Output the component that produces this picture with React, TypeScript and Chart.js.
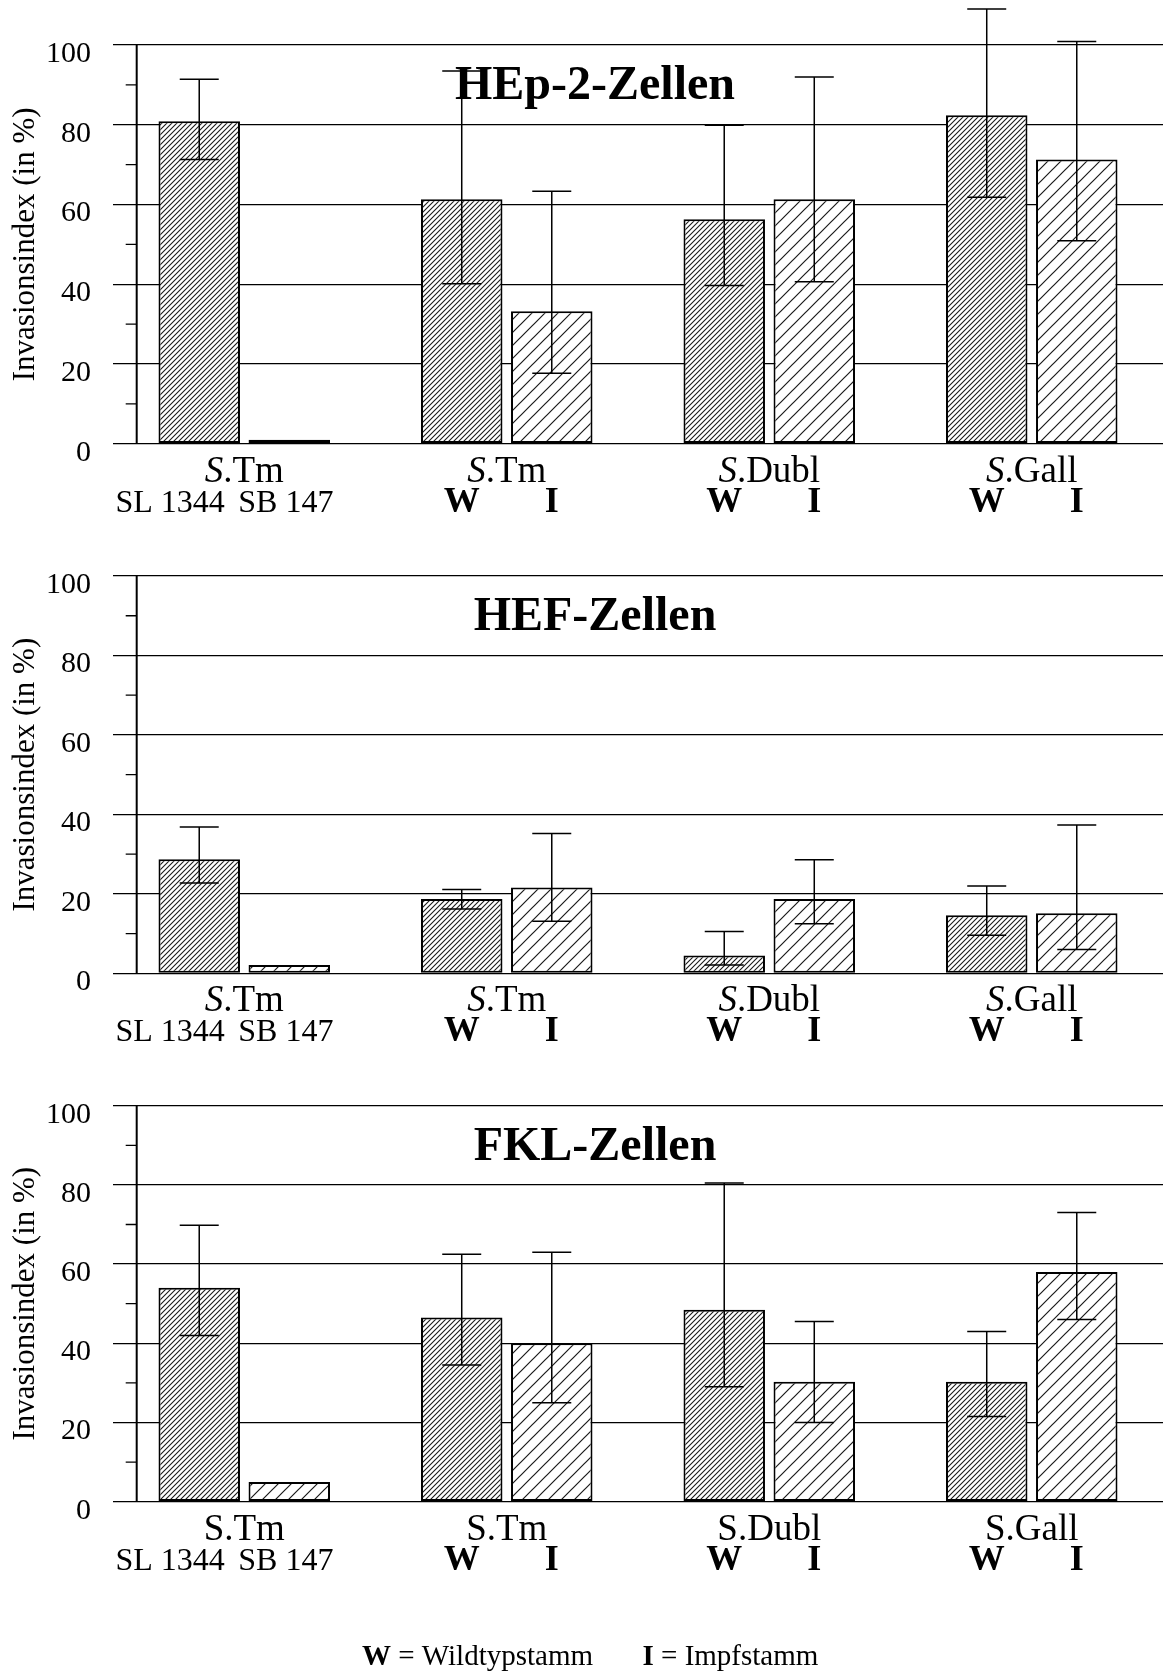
import { useEffect, useRef } from 'react';
import { Chart, registerables } from 'chart.js';

Chart.register(...registerables);

const SERIF = '"Liberation Serif", "Times New Roman", Times, serif';

// x axis: one group per Salmonella serovar
const GROUPS = ['S.Tm', 'S.Tm', 'S.Dubl', 'S.Gall'];
const FIRST_GROUP_STRAINS = ['SL 1344', 'SB 147'];
const STRAIN_MARKS = ['W', 'I'];
const Y_MIN = 0;
const Y_MAX = 100;
const Y_STEP = 20;
const Y_MINOR = [10, 30, 50, 70, 90];
const Y_TITLE = 'Invasionsindex (in %)';

// HEp-2 cells
const HEP_W = [80.9, 61.3, 56.3, 82.4];
const HEP_W_UPPER = [91.4, 93.5, 79.9, 109.0];
const HEP_W_LOWER = [71.3, 40.1, 39.7, 61.8];
const HEP_I = [1.0, 33.2, 61.3, 71.3];
const HEP_I_UPPER = [null, 63.3, 92.0, 100.9];
const HEP_I_LOWER = [null, 17.7, 40.6, 50.9];

// HEF cells
const HEF_W = [28.7, 18.7, 4.5, 14.6];
const HEF_W_UPPER = [36.8, 21.1, 10.5, 22.0];
const HEF_W_LOWER = [22.7, 16.2, 2.1, 9.6];
const HEF_I = [2.1, 21.6, 18.7, 15.1];
const HEF_I_UPPER = [null, 35.2, 28.6, 37.3];
const HEF_I_LOWER = [null, 13.1, 12.5, 6.0];

// FKL cells
const FKL_W = [54.0, 46.5, 48.5, 30.3];
const FKL_W_UPPER = [69.8, 62.5, 80.5, 43.0];
const FKL_W_LOWER = [42.0, 34.5, 29.0, 21.5];
const FKL_I = [5.0, 40.0, 30.3, 58.0];
const FKL_I_UPPER = [null, 63.0, 45.5, 73.0];
const FKL_I_LOWER = [null, 25.0, 20.0, 46.0];

const FOOTER_W = ' = Wildtypstamm';
const FOOTER_I = ' = Impfstamm';

type Series = (number | null)[];
type PanelSpec = {
  title: string;
  italicGenus: boolean;
  w: Series;
  wUpper: Series;
  wLower: Series;
  i: Series;
  iUpper: Series;
  iLower: Series;
  footer: boolean;
  top: number;
  height: number;
  padTop: number;
  padBottom: number;
};

const PANELS: PanelSpec[] = [
  {
    title: 'HEp-2-Zellen', italicGenus: true,
    w: HEP_W, wUpper: HEP_W_UPPER, wLower: HEP_W_LOWER,
    i: HEP_I, iUpper: HEP_I_UPPER, iLower: HEP_I_LOWER,
    footer: false, top: 0, height: 530, padTop: 45, padBottom: 86.3,
  },
  {
    title: 'HEF-Zellen', italicGenus: true,
    w: HEF_W, wUpper: HEF_W_UPPER, wLower: HEF_W_LOWER,
    i: HEF_I, iUpper: HEF_I_UPPER, iLower: HEF_I_LOWER,
    footer: false, top: 530, height: 530, padTop: 46, padBottom: 86.7,
  },
  {
    title: 'FKL-Zellen', italicGenus: false,
    w: FKL_W, wUpper: FKL_W_UPPER, wLower: FKL_W_LOWER,
    i: FKL_I, iUpper: FKL_I_UPPER, iLower: FKL_I_LOWER,
    footer: true, top: 1060, height: 612, padTop: 45.7, padBottom: 170.3,
  },
];

const WIDTH = 1163;

function makeHatch(size: number, lineWidth: number) {
  const tile = document.createElement('canvas');
  tile.width = size;
  tile.height = size;
  const g = tile.getContext('2d')!;
  g.fillStyle = '#ffffff';
  g.fillRect(0, 0, size, size);
  g.strokeStyle = '#1a1a1a';
  g.lineWidth = lineWidth;
  g.beginPath();
  g.moveTo(-1, size + 1);
  g.lineTo(size + 1, -1);
  g.moveTo(-1, 1);
  g.lineTo(1, -1);
  g.moveTo(size - 1, size + 1);
  g.lineTo(size + 1, size - 1);
  g.stroke();
  return g.createPattern(tile, 'repeat')!;
}

function drawGenusLabel(
  ctx: CanvasRenderingContext2D,
  text: string,
  cx: number,
  baseline: number,
  italic: boolean,
) {
  const genus = text.slice(0, 1);
  const rest = text.slice(1);
  const size = 37;
  const genusFont = `${italic ? 'italic ' : ''}${size}px ${SERIF}`;
  const restFont = `${size}px ${SERIF}`;
  ctx.font = genusFont;
  const gw = ctx.measureText(genus).width;
  ctx.font = restFont;
  const rw = ctx.measureText(rest).width;
  const x0 = cx - (gw + rw) / 2;
  ctx.textAlign = 'left';
  ctx.font = genusFont;
  ctx.fillText(genus, x0, baseline);
  ctx.font = restFont;
  ctx.fillText(rest, x0 + gw, baseline);
}

function BarPanel({ spec }: { spec: PanelSpec }) {
  const ref = useRef<HTMLCanvasElement>(null);

  useEffect(() => {
    const canvas = ref.current!;
    const dense = makeHatch(5, 1.1);
    const sparse = makeHatch(13, 1.2);

    const errorBars = {
      id: 'errorBars',
      afterDatasetsDraw(chart: any) {
        const { ctx } = chart;
        const y = chart.scales.y;
        const ranges: [Series, Series][] = [
          [spec.wUpper, spec.wLower],
          [spec.iUpper, spec.iLower],
        ];
        ctx.save();
        ctx.strokeStyle = '#000';
        ctx.lineWidth = 1.5;
        ranges.forEach(([up, lo], di) => {
          chart.getDatasetMeta(di).data.forEach((bar: any, k: number) => {
            const u = up[k];
            const l = lo[k];
            if (u == null || l == null) return;
            const yt = y.getPixelForValue(u);
            const yb = y.getPixelForValue(l);
            ctx.beginPath();
            ctx.moveTo(bar.x, yt);
            ctx.lineTo(bar.x, yb);
            ctx.moveTo(bar.x - 19.5, yt);
            ctx.lineTo(bar.x + 19.5, yt);
            ctx.moveTo(bar.x - 19.5, yb);
            ctx.lineTo(bar.x + 19.5, yb);
            ctx.stroke();
          });
        });
        ctx.restore();
      },
    };

    const decorations = {
      id: 'decorations',
      afterDraw(chart: any) {
        const { ctx, chartArea } = chart;
        const x = chart.scales.x;
        const y = chart.scales.y;
        const y0 = y.getPixelForValue(Y_MIN);
        const yTop = y.getPixelForValue(Y_MAX);
        const axisX = chartArea.left + 23.7;

        ctx.save();
        // y axis line and minor ticks
        ctx.strokeStyle = '#000';
        ctx.lineWidth = 2;
        ctx.beginPath();
        ctx.moveTo(axisX, y0);
        ctx.lineTo(axisX, yTop);
        ctx.stroke();
        ctx.lineWidth = 1.3;
        ctx.beginPath();
        Y_MINOR.forEach((v) => {
          const py = y.getPixelForValue(v);
          ctx.moveTo(axisX - 11, py);
          ctx.lineTo(axisX, py);
        });
        ctx.stroke();

        // panel title
        ctx.fillStyle = '#000';
        ctx.textBaseline = 'alphabetic';
        ctx.textAlign = 'center';
        ctx.font = `bold 48px ${SERIF}`;
        ctx.fillText(spec.title, chartArea.left + 482, yTop + 54);

        // group labels
        GROUPS.forEach((g, idx) => {
          drawGenusLabel(ctx, g, x.getPixelForValue(idx), y0 + 38, spec.italicGenus);
        });

        // strain labels under the bars
        const metaW = chart.getDatasetMeta(0).data;
        const metaI = chart.getDatasetMeta(1).data;
        const c0 = x.getPixelForValue(0);
        ctx.font = `32px ${SERIF}`;
        ctx.textAlign = 'right';
        ctx.fillText(FIRST_GROUP_STRAINS[0], c0 - 19.5, y0 + 68);
        ctx.textAlign = 'left';
        ctx.fillText(FIRST_GROUP_STRAINS[1], c0 - 6, y0 + 68);
        ctx.font = `bold 36px ${SERIF}`;
        ctx.textAlign = 'center';
        for (let k = 1; k < GROUPS.length; k++) {
          ctx.fillText(STRAIN_MARKS[0], metaW[k].x, y0 + 68);
          ctx.fillText(STRAIN_MARKS[1], metaI[k].x, y0 + 68);
        }

        // key below the last panel
        if (spec.footer) {
          const base = chart.height - 7;
          ctx.textAlign = 'left';
          ctx.font = `bold 29px ${SERIF}`;
          ctx.fillText(STRAIN_MARKS[0], 362, base);
          let wBold = ctx.measureText(STRAIN_MARKS[0]).width;
          ctx.font = `29px ${SERIF}`;
          ctx.fillText(FOOTER_W, 362 + wBold, base);
          ctx.font = `bold 29px ${SERIF}`;
          ctx.fillText(STRAIN_MARKS[1], 642.5, base);
          wBold = ctx.measureText(STRAIN_MARKS[1]).width;
          ctx.font = `29px ${SERIF}`;
          ctx.fillText(FOOTER_I, 642.5 + wBold, base);
        }
        ctx.restore();
      },
    };

    const barStyle = {
      borderColor: '#000',
      borderWidth: 2,
      borderSkipped: false as const,
      barPercentage: 0.905,
      categoryPercentage: 0.686,
    };

    const chart = new Chart(canvas, {
      type: 'bar',
      data: {
        labels: GROUPS,
        datasets: [
          { label: STRAIN_MARKS[0], data: spec.w, backgroundColor: dense, ...barStyle },
          { label: STRAIN_MARKS[1], data: spec.i, backgroundColor: sparse, ...barStyle },
        ],
      },
      options: {
        animation: false,
        responsive: false,
        maintainAspectRatio: false,
        devicePixelRatio: 1,
        layout: { padding: { top: spec.padTop, bottom: spec.padBottom, left: 0, right: 0 } },
        plugins: {
          legend: { display: false },
          tooltip: { enabled: false },
        },
        scales: {
          x: {
            display: false,
            offset: true,
            grid: { display: false },
          },
          y: {
            min: Y_MIN,
            max: Y_MAX,
            afterFit: (scale: any) => {
              scale.width = 113;
            },
            ticks: {
              stepSize: Y_STEP,
              color: '#000',
              padding: 22,
              labelOffset: 9,
              font: { family: SERIF, size: 30 },
            },
            grid: { color: '#000', lineWidth: 1.3, drawTicks: false },
            border: { display: false },
            title: {
              display: true,
              text: Y_TITLE,
              color: '#000',
              font: { family: SERIF, size: 31 },
              padding: { top: 7, bottom: 0 },
            },
          },
        },
      },
      plugins: [errorBars, decorations],
    } as any);

    return () => chart.destroy();
  }, [spec]);

  return (
    <canvas
      ref={ref}
      width={WIDTH}
      height={spec.height}
      style={{ position: 'absolute', left: 0, top: spec.top, width: WIDTH, height: spec.height }}
    />
  );
}

export default function App() {
  return (
    <div style={{ position: 'absolute', left: 0, top: 0, width: WIDTH, height: 1672, background: '#fff' }}>
      {PANELS.map((p) => (
        <BarPanel key={p.title} spec={p} />
      ))}
    </div>
  );
}
